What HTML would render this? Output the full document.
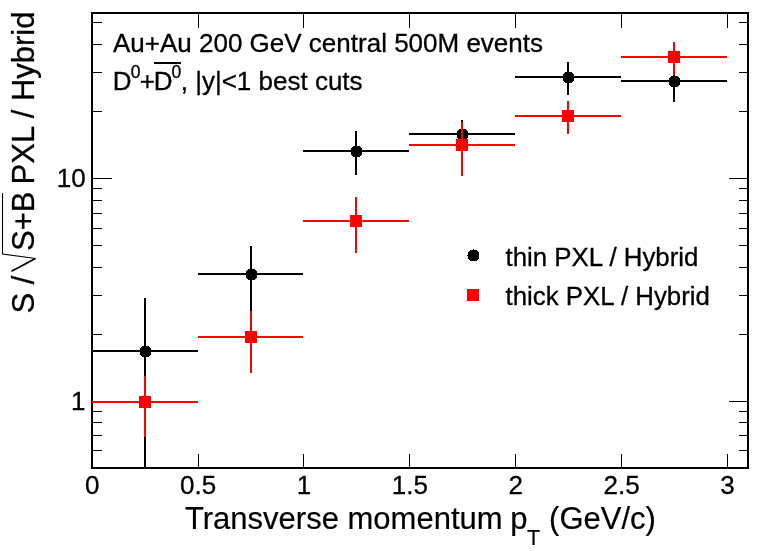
<!DOCTYPE html>
<html lang="en"><head><meta charset="utf-8"><title>S/sqrt(S+B) PXL / Hybrid</title>
<style>html,body{margin:0;padding:0;background:#fff;}body{width:768px;height:551px;overflow:hidden;}svg{display:block;}text{font-family:"Liberation Sans",Arial,Helvetica,sans-serif;fill:#000;stroke:#000;stroke-width:0.3px;}</style></head><body>
<svg width="768" height="551" viewBox="0 0 768 551">
<rect x="0" y="0" width="768" height="551" fill="#fff"/>
<g shape-rendering="crispEdges" fill="#000">
<rect x="198" y="14" width="1" height="14"/>
<rect x="198" y="454" width="1" height="13"/>
<rect x="303" y="14" width="1" height="14"/>
<rect x="303" y="454" width="1" height="13"/>
<rect x="409" y="14" width="1" height="14"/>
<rect x="409" y="454" width="1" height="13"/>
<rect x="515" y="14" width="1" height="14"/>
<rect x="515" y="454" width="1" height="13"/>
<rect x="621" y="14" width="1" height="14"/>
<rect x="621" y="454" width="1" height="13"/>
<rect x="727" y="14" width="1" height="14"/>
<rect x="727" y="454" width="1" height="13"/>
<rect x="93" y="401" width="19" height="1"/>
<rect x="729" y="401" width="18" height="1"/>
<rect x="93" y="178" width="19" height="1"/>
<rect x="729" y="178" width="18" height="1"/>
<rect x="93" y="450" width="9" height="1"/>
<rect x="739" y="450" width="8" height="1"/>
<rect x="93" y="435" width="9" height="1"/>
<rect x="739" y="435" width="8" height="1"/>
<rect x="93" y="422" width="9" height="1"/>
<rect x="739" y="422" width="8" height="1"/>
<rect x="93" y="411" width="9" height="1"/>
<rect x="739" y="411" width="8" height="1"/>
<rect x="93" y="334" width="9" height="1"/>
<rect x="739" y="334" width="8" height="1"/>
<rect x="93" y="295" width="9" height="1"/>
<rect x="739" y="295" width="8" height="1"/>
<rect x="93" y="267" width="9" height="1"/>
<rect x="739" y="267" width="8" height="1"/>
<rect x="93" y="245" width="9" height="1"/>
<rect x="739" y="245" width="8" height="1"/>
<rect x="93" y="228" width="9" height="1"/>
<rect x="739" y="228" width="8" height="1"/>
<rect x="93" y="213" width="9" height="1"/>
<rect x="739" y="213" width="8" height="1"/>
<rect x="93" y="200" width="9" height="1"/>
<rect x="739" y="200" width="8" height="1"/>
<rect x="93" y="188" width="9" height="1"/>
<rect x="739" y="188" width="8" height="1"/>
<rect x="93" y="111" width="9" height="1"/>
<rect x="739" y="111" width="8" height="1"/>
<rect x="93" y="72" width="9" height="1"/>
<rect x="739" y="72" width="8" height="1"/>
<rect x="93" y="44" width="9" height="1"/>
<rect x="739" y="44" width="8" height="1"/>
<rect x="93" y="22" width="9" height="1"/>
<rect x="739" y="22" width="8" height="1"/>
</g>
<rect x="92" y="13" width="656" height="455" fill="none" stroke="#000" stroke-width="2" shape-rendering="crispEdges"/>
<clipPath id="fr"><rect x="92" y="13" width="656" height="456"/></clipPath>
<g shape-rendering="crispEdges" clip-path="url(#fr)">
<rect x="92" y="350" width="106" height="2" fill="#000"/>
<rect x="144" y="298" width="2" height="172" fill="#000"/>
<rect x="198" y="273" width="105" height="2" fill="#000"/>
<rect x="250" y="246" width="2" height="67" fill="#000"/>
<rect x="303" y="150" width="106" height="2" fill="#000"/>
<rect x="355" y="131" width="2" height="44" fill="#000"/>
<rect x="409" y="133" width="106" height="2" fill="#000"/>
<rect x="461" y="120" width="2" height="30" fill="#000"/>
<rect x="515" y="76" width="106" height="2" fill="#000"/>
<rect x="567" y="62" width="2" height="33" fill="#000"/>
<rect x="621" y="80" width="106" height="2" fill="#000"/>
<rect x="673" y="64" width="2" height="38" fill="#000"/>
<path d="M142,346h7v1h1v1h1v7h-1v1h-1v1h-7v-1h-1v-1h-1v-7h1v-1h1z" fill="#000"/>
<path d="M248,269h7v1h1v1h1v7h-1v1h-1v1h-7v-1h-1v-1h-1v-7h1v-1h1z" fill="#000"/>
<path d="M353,146h7v1h1v1h1v7h-1v1h-1v1h-7v-1h-1v-1h-1v-7h1v-1h1z" fill="#000"/>
<path d="M459,129h7v1h1v1h1v7h-1v1h-1v1h-7v-1h-1v-1h-1v-7h1v-1h1z" fill="#000"/>
<path d="M565,72h7v1h1v1h1v7h-1v1h-1v1h-7v-1h-1v-1h-1v-7h1v-1h1z" fill="#000"/>
<path d="M671,76h7v1h1v1h1v7h-1v1h-1v1h-7v-1h-1v-1h-1v-7h1v-1h1z" fill="#000"/>
<rect x="92" y="401" width="106" height="2" fill="#f00"/>
<rect x="144" y="376" width="2" height="61" fill="#f00"/>
<rect x="139" y="396" width="12" height="12" fill="#f00"/>
<rect x="198" y="336" width="105" height="2" fill="#f00"/>
<rect x="250" y="311" width="2" height="62" fill="#f00"/>
<rect x="245" y="331" width="12" height="12" fill="#f00"/>
<rect x="303" y="220" width="106" height="2" fill="#f00"/>
<rect x="355" y="197" width="2" height="56" fill="#f00"/>
<rect x="350" y="215" width="12" height="12" fill="#f00"/>
<rect x="409" y="144" width="106" height="2" fill="#f00"/>
<rect x="461" y="122" width="2" height="54" fill="#f00"/>
<rect x="456" y="139" width="12" height="12" fill="#f00"/>
<rect x="515" y="115" width="106" height="2" fill="#f00"/>
<rect x="567" y="101" width="2" height="33" fill="#f00"/>
<rect x="562" y="110" width="12" height="12" fill="#f00"/>
<rect x="621" y="56" width="106" height="2" fill="#f00"/>
<rect x="673" y="42" width="2" height="33" fill="#f00"/>
<rect x="668" y="51" width="12" height="12" fill="#f00"/>
</g>
<g shape-rendering="crispEdges"><path d="M470,250h7v1h1v1h1v7h-1v1h-1v1h-7v-1h-1v-1h-1v-7h1v-1h1z" fill="#000"/><rect x="473" y="249" width="1" height="1"/><rect x="467" y="255" width="1" height="1"/></g>
<rect x="467" y="289" width="12" height="12" fill="#f00" shape-rendering="crispEdges"/>
<text x="505.5" y="265.7" font-size="25.85">thin PXL / Hybrid</text>
<text x="505.5" y="304.7" font-size="25.85">thick PXL / Hybrid</text>
<text x="113" y="52" font-size="26">Au+Au 200 GeV central 500M events</text>
<text x="112.7" y="90" font-size="26">D</text>
<text x="130.7" y="77.5" font-size="17.5">0</text>
<text x="139.8" y="90" font-size="26">+</text>
<text x="153.8" y="90" font-size="26">D</text>
<text x="171.5" y="77.5" font-size="17.5">0</text>
<text x="180.7" y="90" font-size="26">, |y|&lt;1 best cuts</text>
<rect x="154" y="62" width="27" height="2" fill="#000" shape-rendering="crispEdges"/>
<text x="92.2" y="494.2" font-size="26" text-anchor="middle">0</text>
<text x="198.1" y="494.2" font-size="26" text-anchor="middle">0.5</text>
<text x="304.0" y="494.2" font-size="26" text-anchor="middle">1</text>
<text x="409.9" y="494.2" font-size="26" text-anchor="middle">1.5</text>
<text x="515.8" y="494.2" font-size="26" text-anchor="middle">2</text>
<text x="621.7" y="494.2" font-size="26" text-anchor="middle">2.5</text>
<text x="727.6" y="494.2" font-size="26" text-anchor="middle">3</text>
<text x="85.6" y="186.6" font-size="26" text-anchor="end">10</text>
<text x="85.5" y="409.9" font-size="26" text-anchor="end">1</text>
<text x="185" y="529.2" font-size="31" style="stroke-width:0.2px">Transverse momentum<tspan dx="-0.9"> p</tspan><tspan font-size="21.5" dy="16" dx="-0.4">T</tspan><tspan dy="-16" dx="0.2"> (GeV/c)</tspan></text>
<g transform="translate(33.5,310.5) rotate(-90)">
<text x="-3" y="0" font-size="31">S /</text>
<text x="59.6" y="0" font-size="31">S+B</text>
<text x="126.1" y="0" font-size="31">PXL / Hybrid</text>
<polyline points="39.3,-22 52,2" fill="none" stroke="#000" stroke-width="1.8"/>
<polyline points="52,2 56.5,-31 117.5,-31" fill="none" stroke="#000" stroke-width="1.1"/>
</g>
</svg></body></html>
